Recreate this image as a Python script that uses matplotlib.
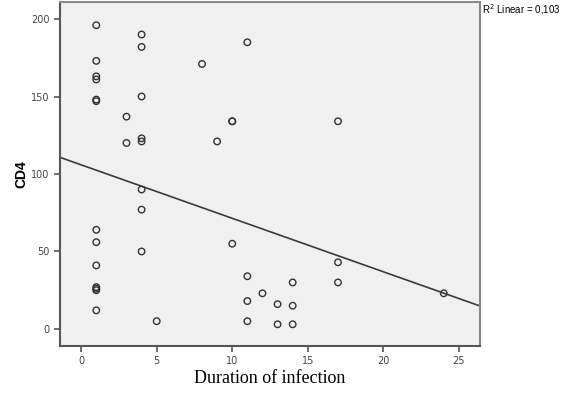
import numpy as np
import matplotlib.pyplot as plt

# duration of infection (x) and CD4 count (y)
duration = [1, 1, 1, 1, 1, 1, 1, 1, 1, 1, 1, 1, 1,
            3, 3,
            4, 4, 4, 4, 4, 4, 4, 4,
            5, 8, 9, 10, 10, 10, 11, 11, 11, 11,
            12, 13, 13, 14, 14, 14, 17, 17, 17, 24]
cd4 = [196, 173, 163, 161, 148, 147, 64, 56, 41, 27, 26, 25, 12,
       137, 120,
       190, 182, 150, 123, 121, 90, 77, 50,
       5, 171, 121, 134, 134, 55, 185, 34, 18, 5,
       23, 16, 3, 30, 15, 3, 134, 43, 30, 23]

# fit line as drawn in the picture
fit_slope = -3.45
fit_intercept = 105.9
r2_text = "R$^2$ Linear = 0,103"

fig = plt.figure(figsize=(5.62, 3.97), dpi=100)
ax = fig.add_axes([0.1068, 0.1285, 0.7473, 0.8665])
ax.set_facecolor('#f0f0f0')

ax.scatter(duration, cd4, s=22, facecolors='none', edgecolors='#333333', linewidths=1.0, zorder=3)

xmin, xmax = -1.4, 26.4
xs = np.array([xmin, xmax])
ax.plot(xs, fit_intercept + fit_slope * xs, color='#3a3a3a', lw=1.2, zorder=2)

ax.set_xlim(xmin, xmax)
ax.set_ylim(-11, 211)
ax.set_xticks([0, 5, 10, 15, 20, 25])
ax.set_yticks([0, 50, 100, 150, 200])
ax.tick_params(direction='out', length=4, width=1.2, color='#555555',
               labelsize=7, labelcolor='#444444')
for s in ['top', 'right']:
    ax.spines[s].set_color('#888888')
    ax.spines[s].set_linewidth(1.5)
for s in ['left', 'bottom']:
    ax.spines[s].set_color('#555555')
    ax.spines[s].set_linewidth(1.5)

ax.set_ylabel("CD4", fontsize=10, fontweight='bold', family='Liberation Sans', labelpad=2)
fig.text(0.48, 0.025, "Duration of infection", fontsize=13, family='Liberation Serif',
         ha='center', va='bottom')
fig.text(0.857, 0.975, r2_text, fontsize=7, family='Liberation Sans', ha='left', va='center')

fig.savefig('out.png', dpi=100)
